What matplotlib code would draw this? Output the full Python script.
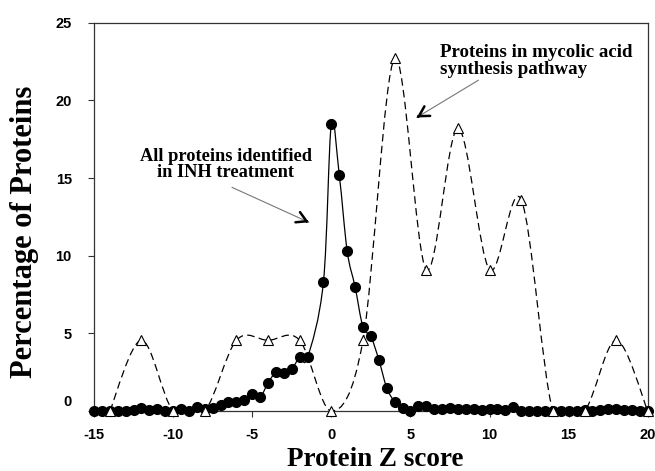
import numpy as np
import matplotlib.pyplot as plt
import matplotlib.transforms as mtransforms
from matplotlib.path import Path
from matplotlib.patches import PathPatch

plt.rcParams['axes.unicode_minus'] = False

# all proteins identified in INH treatment (no point at z = -1.0)
z_all = np.r_[np.arange(-15, -1.0, 0.5), np.arange(-0.5, 20.5, 0.5)]
pct_all = [0, 0, 0, 0, 0, 0.05, 0.2, 0.05, 0.15, 0, 0, 0.15, 0, 0.25,
           0.1, 0.2, 0.4, 0.6, 0.6, 0.7, 1.1, 0.9, 1.8, 2.5, 2.45, 2.7,
           3.45, 3.45,
           8.3, 18.5, 15.2, 10.3, 8.0, 5.4, 4.8, 3.3, 1.5, 0.6, 0.2,
           0, 0.3, 0.3, 0.1, 0.1, 0.2, 0.1, 0.1, 0.1, 0.05, 0.15, 0.15,
           0.05, 0.25, 0, 0, 0, 0, 0, 0, 0, 0, 0.05, 0, 0.05, 0.1, 0.15,
           0.05, 0.05, 0, 0]

# proteins in mycolic acid synthesis pathway
z_myc = [-14, -12, -10, -8, -6, -4, -2, 0, 2, 4, 6, 8, 10, 12, 14, 16, 18, 20]
pct_myc = [0, 4.55, 0, 0, 4.55, 4.55, 4.55, 0, 4.55, 22.7, 9.1, 18.2, 9.1,
           13.6, 0, 0, 4.55, 0]

x_ticks = [-15, -10, -5, 0, 5, 10, 15, 20]
y_ticks = [0, 5, 10, 15, 20, 25]


def smooth_path(x, y):
    # bezier curve through the points, like a spreadsheet "smoothed line"
    x = np.asarray(x, float)
    y = np.asarray(y, float)
    n = len(x)
    verts = [(x[0], y[0])]
    codes = [Path.MOVETO]
    for i in range(n - 1):
        a = max(i - 1, 0)
        b = min(i + 2, n - 1)
        c1 = (x[i] + (x[i + 1] - x[a]) / 6, y[i] + (y[i + 1] - y[a]) / 6)
        c2 = (x[i + 1] - (x[b] - x[i]) / 6, y[i + 1] - (y[b] - y[i]) / 6)
        verts += [c1, c2, (x[i + 1], y[i + 1])]
        codes += [Path.CURVE4] * 3
    return Path(verts, codes)


fig = plt.figure(figsize=(6.55, 4.71), dpi=100)
ax = fig.add_axes([0.1435, 0.1274, 0.8455, 0.8244])

ax.add_patch(PathPatch(smooth_path(z_myc, pct_myc), fill=False,
                       ec='black', lw=0.9, ls=(0, (6, 3.5)), zorder=2))
ax.add_patch(PathPatch(smooth_path(z_all, pct_all), fill=False,
                       ec='black', lw=0.9, zorder=2))

ax.plot(z_all, pct_all, 'o', ms=7, color='black', clip_on=False, zorder=3)
ax.plot(z_myc, pct_myc, '^', ms=7.5, mfc='white', mec='black', mew=0.8,
        clip_on=False, zorder=4)

ax.set_xlim(-15, 20)
ax.set_ylim(0, 25)
ax.set_xticks(x_ticks)
ax.set_yticks(y_ticks)
for s in ax.spines.values():
    s.set_color('#333333')
    s.set_linewidth(0.9)
ax.tick_params(direction='out', length=4, width=0.8, color='#333333',
               labelsize=10.5)
ax.tick_params(axis='x', pad=8)
ax.tick_params(axis='y', pad=12)
for lab in ax.get_xticklabels() + ax.get_yticklabels():
    lab.set_fontfamily('Liberation Sans')
    lab.set_fontweight('bold')

# the 0 label sits a little higher in the original
zero_lab = ax.yaxis.get_major_ticks()[0].label1
zero_lab.set_transform(zero_lab.get_transform() +
                       mtransforms.ScaledTranslation(0, 0.1, fig.dpi_scale_trans))

ax.set_xlabel('Protein Z score', family='Liberation Serif', weight='bold',
              fontsize=19.5)
ax.xaxis.set_label_coords(0.507, -0.094)
ax.set_ylabel('Percentage of Proteins', family='Liberation Serif',
              weight='bold', fontsize=22)
ax.yaxis.set_label_coords(-0.1, 0.461)

ax.text(-6.66, 15.87, 'All proteins identified\nin INH treatment',
        ha='center', va='center', family='Liberation Serif', weight='bold',
        fontsize=13.2, linespacing=0.88)
ax.text(6.86, 22.56, 'Proteins in mycolic acid\nsynthesis pathway',
        ha='left', va='center', family='Liberation Serif', weight='bold',
        fontsize=13.6, linespacing=1.0)


def pointer(tail, head):
    ax.annotate('', xy=head, xytext=tail,
                arrowprops=dict(arrowstyle='-', color='#777777', lw=0.8,
                                shrinkA=0, shrinkB=0))
    near = (tail[0] + 0.97 * (head[0] - tail[0]),
            tail[1] + 0.97 * (head[1] - tail[1]))
    ax.annotate('', xy=head, xytext=near,
                arrowprops=dict(arrowstyle='->,head_length=0.7,head_width=0.4',
                                color='black', lw=1.8, mutation_scale=10,
                                shrinkA=0, shrinkB=0))


pointer((-6.28, 14.4), (-1.42, 12.15))
pointer((9.3, 21.3), (5.4, 18.9))

fig.savefig('out.png', dpi=100)
